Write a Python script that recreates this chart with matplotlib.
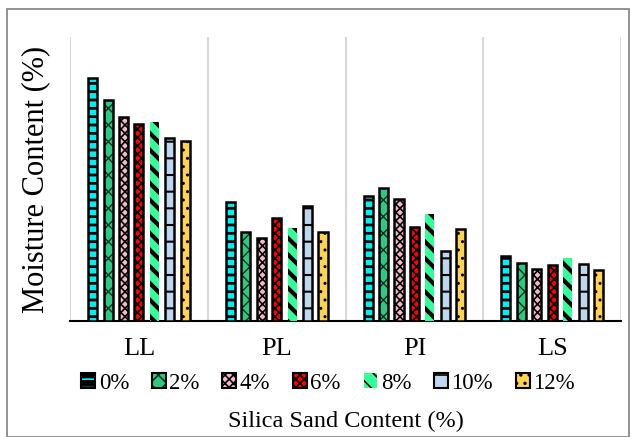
import numpy as np
import matplotlib.pyplot as plt
from matplotlib.patches import Patch, Rectangle

plt.rcParams['font.family'] = ['Liberation Serif', 'DejaVu Serif']
plt.rcParams['hatch.linewidth'] = 1.2

# datos (contenido de humedad, %)
categorias = ['LL', 'PL', 'PI', 'LS']
series = ['0%', '2%', '4%', '6%', '8%', '10%', '12%']
arena_0 = [51.3, 25.1, 26.4, 13.7]
arena_2 = [46.7, 18.8, 28.1, 12.3]
arena_4 = [43.1, 17.5, 25.8, 11.0]
arena_6 = [41.6, 21.8, 19.9, 11.8]
arena_8 = [42.0, 19.6, 22.6, 13.3]
arena_10 = [38.7, 24.3, 14.8, 12.0]
arena_12 = [38.0, 18.8, 19.4, 10.8]
valores = [arena_0, arena_2, arena_4, arena_6, arena_8, arena_10, arena_12]

# estilo: (relleno, color del hatch, hatch, grosor hatch, borde negro)
estilos = [
    ('black', '#00F0F0', '--', 4.0, True),
    ('#2CC985', '#0A3020', 'xx', 1.0, True),
    ('#F4B8C8', 'black', 'xxxx', 1.2, True),
    ('#FF0000', 'black', 'xxxx', 1.2, True),
    ('#33FF99', 'black', '\\\\', 3.0, False),
    ('#BDD7EE', 'black', '-', 1.5, True),
    ('#FFD350', 'black', '..', 1.0, True),
]

fig = plt.figure(figsize=(6.37, 4.37), dpi=100)
ax = fig.add_axes([0.110, 0.265, 0.865, 0.650])

x = np.arange(len(categorias))
paso = 0.112
ancho = 0.066
handles = []
for i, (vals, est) in enumerate(zip(valores, estilos)):
    cara, hcol, hatch, hlw, borde = est
    pos = x + (i - 3) * paso
    barras = ax.bar(pos, vals, ancho, color=cara, edgecolor=hcol, hatch=hatch, linewidth=0, zorder=3)
    for b in barras:
        if hasattr(b, 'set_hatch_linewidth'):
            b.set_hatch_linewidth(hlw)
    h1 = Patch(facecolor=cara, edgecolor=hcol, hatch=hatch, linewidth=0)
    if hasattr(h1, 'set_hatch_linewidth'):
        h1.set_hatch_linewidth(hlw)
    if borde:
        ax.bar(pos, vals, ancho, fill=False, edgecolor='black', linewidth=1.8, zorder=4)
        h2 = Patch(fill=False, edgecolor='black', linewidth=1.5)
        handles.append((h1, h2))
    else:
        handles.append(h1)

ax.set_xlim(-0.5, 3.5)
ax.set_ylim(0, 60)
ax.set_xticks(x)
ax.set_xticklabels(categorias, fontsize=19)
ax.tick_params(axis='x', length=0, pad=12)
ax.set_yticks([])
for s in ['top', 'right', 'left']:
    ax.spines[s].set_visible(False)
ax.spines['bottom'].set_linewidth(1.5)
for g in np.arange(-0.5, 4.0, 1.0):
    ax.axvline(g, color='#D9D9D9', linewidth=1.5, zorder=1)

ax.set_ylabel('Moisture Content (%)', fontsize=22, labelpad=14)
ax.set_xlabel('Silica Sand Content (%)', fontsize=17.5, labelpad=37)

fig.legend(handles, series, loc='center', bbox_to_anchor=(0.515, 0.123), ncol=7,
           frameon=False, fontsize=16.5, handlelength=0.6, handleheight=0.6,
           handletextpad=0.15, columnspacing=1.0)

fig.patches.append(Rectangle((7 / 637, 0), 622 / 637, 1 - 9 / 437, transform=fig.transFigure,
                             fill=False, edgecolor='#808080', linewidth=1.2))

fig.savefig('out.png', dpi=100)
